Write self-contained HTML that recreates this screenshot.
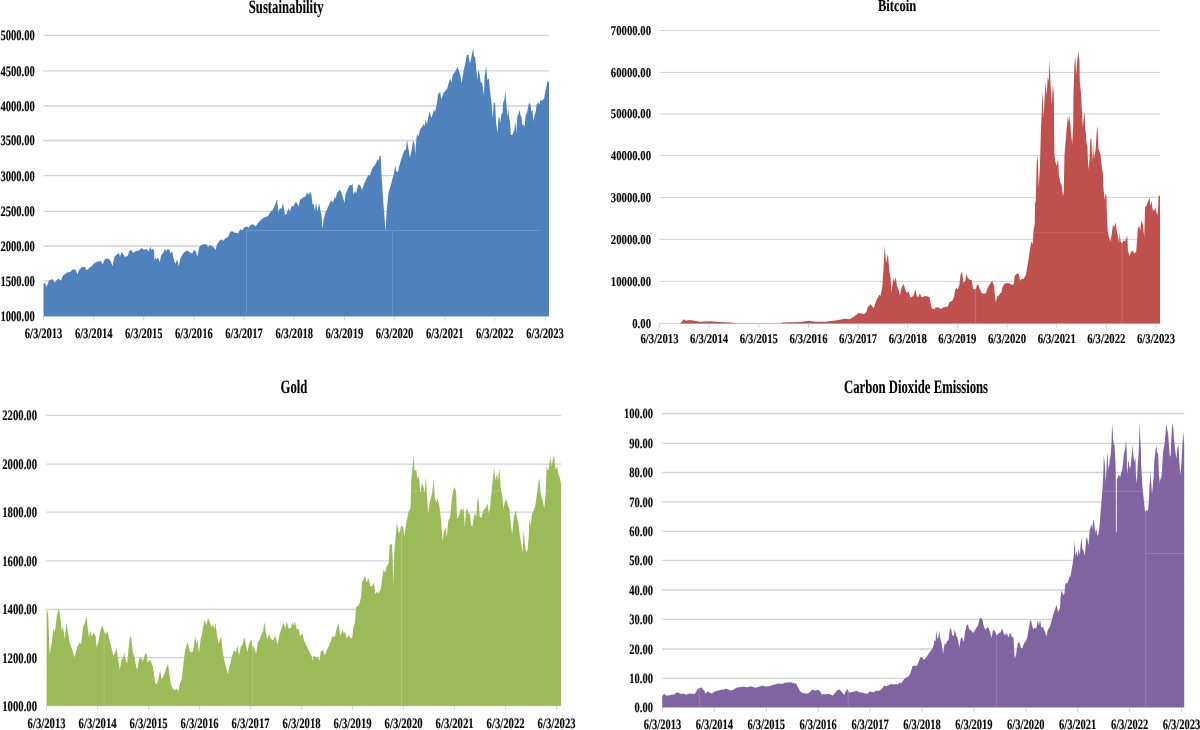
<!DOCTYPE html>
<html lang="en"><head><meta charset="utf-8"><title>Charts</title>
<style>
html,body{margin:0;padding:0;background:#fff}
body{width:1200px;height:730px;overflow:hidden}
svg{display:block}
text{font-family:"Liberation Serif","Times New Roman",serif;font-weight:bold;fill:#000;stroke:#000;stroke-width:.12px;text-rendering:geometricPrecision}
</style></head><body>
<svg width="1200" height="730" viewBox="0 0 1200 730">
<rect width="1200" height="730" fill="#fff"/>
<g>
<line x1="43.3" x2="549.0" y1="316.2" y2="316.2" stroke="#d2d2d2" stroke-width="1.3"/>
<line x1="43.3" x2="549.0" y1="281.0" y2="281.0" stroke="#d2d2d2" stroke-width="1.3"/>
<line x1="43.3" x2="549.0" y1="246.0" y2="246.0" stroke="#d2d2d2" stroke-width="1.3"/>
<line x1="43.3" x2="549.0" y1="211.3" y2="211.3" stroke="#d2d2d2" stroke-width="1.3"/>
<line x1="43.3" x2="549.0" y1="175.6" y2="175.6" stroke="#d2d2d2" stroke-width="1.3"/>
<line x1="43.3" x2="549.0" y1="140.5" y2="140.5" stroke="#d2d2d2" stroke-width="1.3"/>
<line x1="43.3" x2="549.0" y1="106.0" y2="106.0" stroke="#d2d2d2" stroke-width="1.3"/>
<line x1="43.3" x2="549.0" y1="70.9" y2="70.9" stroke="#d2d2d2" stroke-width="1.3"/>
<line x1="43.3" x2="549.0" y1="35.4" y2="35.4" stroke="#d2d2d2" stroke-width="1.3"/>
<line x1="43.5" x2="43.5" y1="316.3" y2="320.7" stroke="#d2d2d2" stroke-width="1"/>
<line x1="93.7" x2="93.7" y1="316.3" y2="320.7" stroke="#d2d2d2" stroke-width="1"/>
<line x1="143.8" x2="143.8" y1="316.3" y2="320.7" stroke="#d2d2d2" stroke-width="1"/>
<line x1="193.9" x2="193.9" y1="316.3" y2="320.7" stroke="#d2d2d2" stroke-width="1"/>
<line x1="244.1" x2="244.1" y1="316.3" y2="320.7" stroke="#d2d2d2" stroke-width="1"/>
<line x1="294.2" x2="294.2" y1="316.3" y2="320.7" stroke="#d2d2d2" stroke-width="1"/>
<line x1="344.4" x2="344.4" y1="316.3" y2="320.7" stroke="#d2d2d2" stroke-width="1"/>
<line x1="394.6" x2="394.6" y1="316.3" y2="320.7" stroke="#d2d2d2" stroke-width="1"/>
<line x1="444.7" x2="444.7" y1="316.3" y2="320.7" stroke="#d2d2d2" stroke-width="1"/>
<line x1="494.8" x2="494.8" y1="316.3" y2="320.7" stroke="#d2d2d2" stroke-width="1"/>
<line x1="545.0" x2="545.0" y1="316.3" y2="320.7" stroke="#d2d2d2" stroke-width="1"/>
<path d="M43.5,316.3L43.5,283.5L45.0,283.0L46.5,287.0L49.0,280.5L52.0,279.0L55.0,282.5L58.0,278.5L61.0,280.5L63.0,275.5L67.0,272.5L70.0,272.0L72.5,269.5L75.5,269.5L77.5,274.5L79.0,270.0L82.0,267.0L85.0,267.0L86.5,270.5L89.0,268.0L92.0,266.0L94.5,263.0L98.0,261.5L101.0,261.0L102.5,264.5L105.0,259.0L108.5,258.5L110.5,261.0L112.5,266.0L114.5,256.5L119.0,253.0L120.0,257.0L121.5,252.0L125.0,257.0L128.0,255.5L129.5,250.5L131.5,250.0L133.0,253.0L136.0,251.0L139.0,250.5L140.0,249.5L142.0,248.1L144.0,250.1L146.4,248.8L148.4,251.5L150.4,246.8L151.4,250.1L152.8,248.8L154.1,250.8L154.4,260.9L155.4,257.5L156.8,259.5L158.1,257.5L159.8,262.2L161.1,255.5L163.2,252.8L165.2,248.8L166.2,251.5L167.5,249.1L169.5,249.8L170.5,253.5L172.2,251.1L173.2,256.8L175.2,263.9L177.2,259.5L178.6,266.2L180.3,258.9L182.3,254.8L184.6,252.1L187.7,250.5L189.7,252.5L192.3,253.5L194.0,249.8L195.7,251.5L197.4,256.8L199.1,247.4L200.7,245.4L203.8,244.1L206.8,244.4L208.1,247.4L209.5,245.1L211.8,246.1L213.5,247.1L215.5,250.1L217.2,244.1L219.5,241.1L220.0,240.0L222.5,239.5L223.5,241.0L225.0,238.5L228.0,237.0L230.5,231.5L233.5,231.5L234.5,233.0L236.5,232.5L238.0,233.5L240.0,229.5L241.5,229.5L242.5,230.5L244.0,227.5L247.0,226.5L248.5,227.8L251.0,224.5L253.5,224.5L255.5,226.5L258.5,222.5L261.5,219.3L265.0,217.0L268.0,216.2L271.0,211.0L272.5,210.5L275.0,205.0L277.0,199.0L278.5,212.0L280.0,208.0L281.5,209.0L283.0,203.0L285.0,215.0L286.5,214.0L288.5,208.5L290.0,211.5L291.5,206.0L293.5,206.5L295.5,202.0L297.0,203.0L298.5,206.5L300.0,200.0L303.0,197.5L305.5,196.5L306.5,193.0L308.5,194.5L310.5,192.0L311.5,195.0L312.5,204.5L313.5,203.5L315.0,211.0L316.0,202.0L317.5,211.5L319.2,203.0L320.5,211.0L321.5,215.0L322.5,229.0L323.5,220.0L325.5,212.5L328.0,207.0L331.0,200.5L333.0,202.5L334.5,197.0L335.5,198.5L337.0,193.0L340.0,189.5L342.0,194.5L344.5,203.0L345.5,194.0L348.0,188.5L350.0,184.5L351.5,185.5L352.5,183.0L353.3,194.5L355.0,191.0L356.0,193.5L358.5,184.0L360.5,186.0L362.0,190.0L364.5,183.0L368.5,174.5L369.5,176.0L372.5,168.0L376.0,163.5L377.5,159.0L378.5,161.0L379.8,155.5L380.8,156.0L381.5,175.0L383.5,205.0L385.5,230.5L387.0,207.0L388.5,193.0L390.0,188.0L394.0,173.0L395.2,165.5L396.2,171.0L398.0,172.0L399.0,167.0L401.0,160.0L404.0,151.0L406.0,149.0L407.0,140.0L408.5,149.0L410.0,158.0L412.0,148.0L413.0,140.5L414.5,144.0L415.2,154.5L416.5,137.5L417.5,134.0L418.5,136.5L420.0,129.5L422.0,127.0L423.5,124.0L424.5,126.5L425.5,120.5L427.0,124.0L429.5,111.5L431.5,118.0L434.0,109.5L435.0,112.5L437.0,103.0L438.0,94.2L440.2,92.0L441.3,99.6L443.4,93.1L447.2,88.8L449.4,80.6L450.8,79.0L451.5,83.3L452.6,75.2L455.3,71.4L457.5,67.1L459.1,71.4L460.2,74.7L461.6,83.3L463.5,71.4L465.6,61.7L466.7,55.2L468.3,54.6L470.0,63.8L471.6,56.3L473.2,48.1L474.0,56.3L475.1,57.3L476.5,71.4L477.5,80.1L478.3,69.8L479.7,74.7L480.8,83.3L481.9,81.7L484.0,95.3L484.6,76.8L486.2,66.0L487.3,80.1L488.9,78.5L490.0,90.9L491.3,100.7L492.8,117.9L493.8,102.4L495.1,103.1L496.1,123.3L497.5,132.7L498.5,117.9L499.5,117.2L500.2,123.3L501.5,113.2L502.5,113.9L503.2,102.4L504.5,99.4L505.2,89.7L506.0,99.8L506.9,109.2L507.6,117.2L508.4,107.8L509.2,118.6L510.0,121.2L510.9,135.0L512.2,135.0L514.3,130.6L515.5,121.6L516.3,132.7L517.3,116.5L518.6,113.9L519.8,109.8L520.6,116.2L521.3,115.2L522.3,124.6L524.7,125.9L525.7,114.5L527.0,113.2L528.4,105.1L529.7,102.8L530.7,105.8L531.4,111.8L532.4,109.8L533.4,121.6L534.4,115.9L535.7,111.8L536.7,103.8L537.4,104.5L538.4,101.4L539.1,105.1L540.4,100.1L542.1,100.8L544.1,98.4L545.5,90.4L546.5,86.3L547.1,83.0L547.8,80.6L548.5,81.6L549.0,83.7L549.0,316.3Z" fill="#4f81bd"/>
<line x1="246.5" x2="246.5" y1="230.5" y2="316" stroke="#fff" stroke-opacity=".18" stroke-width="1"/>
<line x1="246.5" x2="540" y1="230.5" y2="230.5" stroke="#fff" stroke-opacity="0.18" stroke-width="1"/>
<line x1="392.3" x2="392.3" y1="231" y2="316" stroke="#fff" stroke-opacity=".18" stroke-width="1"/>
<text font-size="14.5" text-anchor="end" transform="translate(34.8,321.1) scale(0.73,1)">1000.00</text>
<text font-size="14.5" text-anchor="end" transform="translate(34.8,285.9) scale(0.73,1)">1500.00</text>
<text font-size="14.5" text-anchor="end" transform="translate(34.8,250.9) scale(0.73,1)">2000.00</text>
<text font-size="14.5" text-anchor="end" transform="translate(34.8,216.2) scale(0.73,1)">2500.00</text>
<text font-size="14.5" text-anchor="end" transform="translate(34.8,180.5) scale(0.73,1)">3000.00</text>
<text font-size="14.5" text-anchor="end" transform="translate(34.8,145.4) scale(0.73,1)">3500.00</text>
<text font-size="14.5" text-anchor="end" transform="translate(34.8,110.9) scale(0.73,1)">4000.00</text>
<text font-size="14.5" text-anchor="end" transform="translate(34.8,75.8) scale(0.73,1)">4500.00</text>
<text font-size="14.5" text-anchor="end" transform="translate(34.8,40.3) scale(0.73,1)">5000.00</text>
<text font-size="14.5" text-anchor="middle" transform="translate(43.5,338.0) scale(0.73,1)">6/3/2013</text>
<text font-size="14.5" text-anchor="middle" transform="translate(93.7,338.0) scale(0.73,1)">6/3/2014</text>
<text font-size="14.5" text-anchor="middle" transform="translate(143.8,338.0) scale(0.73,1)">6/3/2015</text>
<text font-size="14.5" text-anchor="middle" transform="translate(193.9,338.0) scale(0.73,1)">6/3/2016</text>
<text font-size="14.5" text-anchor="middle" transform="translate(244.1,338.0) scale(0.73,1)">6/3/2017</text>
<text font-size="14.5" text-anchor="middle" transform="translate(294.2,338.0) scale(0.73,1)">6/3/2018</text>
<text font-size="14.5" text-anchor="middle" transform="translate(344.4,338.0) scale(0.73,1)">6/3/2019</text>
<text font-size="14.5" text-anchor="middle" transform="translate(394.6,338.0) scale(0.73,1)">6/3/2020</text>
<text font-size="14.5" text-anchor="middle" transform="translate(444.7,338.0) scale(0.73,1)">6/3/2021</text>
<text font-size="14.5" text-anchor="middle" transform="translate(494.8,338.0) scale(0.73,1)">6/3/2022</text>
<text font-size="14.5" text-anchor="middle" transform="translate(545.0,338.0) scale(0.73,1)">6/3/2023</text>
<text font-size="18.9" text-anchor="middle" transform="translate(286.2,12.9) scale(0.673,1)">Sustainability</text>
</g>
<g>
<line x1="659.3" x2="1160.0" y1="323.4" y2="323.4" stroke="#d2d2d2" stroke-width="1.0"/>
<line x1="659.3" x2="1160.0" y1="281.4" y2="281.4" stroke="#d2d2d2" stroke-width="1.0"/>
<line x1="659.3" x2="1160.0" y1="239.3" y2="239.3" stroke="#d2d2d2" stroke-width="1.0"/>
<line x1="659.3" x2="1160.0" y1="197.4" y2="197.4" stroke="#d2d2d2" stroke-width="1.0"/>
<line x1="659.3" x2="1160.0" y1="155.4" y2="155.4" stroke="#d2d2d2" stroke-width="1.0"/>
<line x1="659.3" x2="1160.0" y1="113.9" y2="113.9" stroke="#d2d2d2" stroke-width="1.0"/>
<line x1="659.3" x2="1160.0" y1="72.4" y2="72.4" stroke="#d2d2d2" stroke-width="1.0"/>
<line x1="659.3" x2="1160.0" y1="30.5" y2="30.5" stroke="#d2d2d2" stroke-width="1.0"/>
<line x1="659.5" x2="659.5" y1="323.4" y2="327.8" stroke="#d2d2d2" stroke-width="1"/>
<line x1="709.1" x2="709.1" y1="323.4" y2="327.8" stroke="#d2d2d2" stroke-width="1"/>
<line x1="758.8" x2="758.8" y1="323.4" y2="327.8" stroke="#d2d2d2" stroke-width="1"/>
<line x1="808.5" x2="808.5" y1="323.4" y2="327.8" stroke="#d2d2d2" stroke-width="1"/>
<line x1="858.1" x2="858.1" y1="323.4" y2="327.8" stroke="#d2d2d2" stroke-width="1"/>
<line x1="907.8" x2="907.8" y1="323.4" y2="327.8" stroke="#d2d2d2" stroke-width="1"/>
<line x1="957.4" x2="957.4" y1="323.4" y2="327.8" stroke="#d2d2d2" stroke-width="1"/>
<line x1="1007.0" x2="1007.0" y1="323.4" y2="327.8" stroke="#d2d2d2" stroke-width="1"/>
<line x1="1056.7" x2="1056.7" y1="323.4" y2="327.8" stroke="#d2d2d2" stroke-width="1"/>
<line x1="1106.3" x2="1106.3" y1="323.4" y2="327.8" stroke="#d2d2d2" stroke-width="1"/>
<line x1="1156.0" x2="1156.0" y1="323.4" y2="327.8" stroke="#d2d2d2" stroke-width="1"/>
<path d="M680.0,323.4L680.0,323.4L682.5,320.8L684.2,319.2L685.8,320.8L689.2,320.0L693.3,320.5L700.0,321.7L710.0,321.2L720.0,322.0L730.0,322.5L736.7,323.2L780.0,323.2L783.3,322.5L800.0,322.0L809.2,320.7L810.0,321.1L815.8,321.7L825.2,321.7L835.7,320.5L845.0,318.8L849.7,319.3L854.3,316.4L858.4,312.9L861.3,313.5L864.3,314.1L866.6,311.8L867.8,307.1L870.7,304.2L873.6,308.3L876.5,300.1L879.4,294.8L880.6,296.0L882.3,286.7L883.5,269.2L884.7,245.8L886.1,263.3L887.9,254.0L889.3,270.3L890.5,277.3L891.4,292.5L893.4,277.9L894.2,282.0L895.8,277.3L896.9,285.5L898.7,290.2L899.8,295.4L901.6,287.8L903.6,283.8L905.1,289.0L906.8,293.1L908.6,291.3L910.3,297.8L913.3,296.0L915.4,289.6L916.8,296.0L918.3,297.2L919.9,293.1L921.4,297.2L925.5,296.0L929.6,296.9L930.8,304.2L931.9,308.3L934.3,309.4L935.0,307.8L937.7,307.3L941.0,309.1L943.7,307.3L948.0,306.5L949.1,302.4L952.3,300.8L954.0,297.0L955.0,290.5L956.4,287.8L957.7,289.4L959.4,285.1L960.5,275.3L962.1,271.5L963.4,282.9L965.3,280.7L966.4,273.7L967.5,277.5L969.7,279.7L971.8,280.2L973.1,288.9L975.6,289.4L977.0,285.1L978.3,284.5L980.0,289.4L981.6,292.7L983.7,293.7L985.9,293.2L987.5,288.3L989.7,284.5L992.2,280.7L994.0,285.6L994.8,293.7L995.7,302.4L997.3,295.9L998.9,295.4L1000.0,293.2L1001.3,292.7L1002.4,287.2L1004.3,284.0L1007.0,282.9L1009.7,283.5L1011.9,284.9L1013.9,284.0L1014.6,275.9L1017.3,273.2L1019.0,274.2L1020.0,280.7L1021.7,279.1L1023.8,278.6L1025.8,275.3L1027.1,267.7L1028.7,258.0L1030.3,247.0L1031.5,241.5L1032.7,244.5L1033.5,231.2L1034.7,224.0L1035.1,202.2L1035.7,202.3L1036.7,163.7L1037.8,155.2L1038.7,187.8L1039.9,167.3L1041.1,125.0L1041.7,112.7L1042.4,90.9L1043.6,117.5L1044.8,95.7L1045.4,81.2L1046.6,95.7L1047.8,77.0L1048.8,81.2L1049.6,59.5L1050.4,81.2L1051.7,105.4L1052.9,84.9L1053.8,93.3L1054.1,133.0L1054.4,155.2L1055.6,162.5L1056.9,166.1L1058.1,157.6L1058.9,175.7L1060.5,183.0L1061.7,185.4L1062.9,196.3L1063.7,192.7L1064.5,155.2L1065.9,137.1L1067.1,125.0L1067.7,116.3L1068.9,122.3L1069.5,114.5L1070.7,129.6L1072.2,144.3L1073.2,125.0L1073.4,98.2L1074.4,64.3L1075.3,57.1L1076.2,75.2L1077.4,59.5L1078.6,51.6L1079.4,60.7L1079.8,81.2L1081.0,93.3L1081.9,110.2L1082.8,127.2L1083.8,117.5L1084.6,110.9L1085.2,127.2L1085.9,133.0L1086.2,140.7L1087.4,146.7L1088.3,169.7L1089.5,160.0L1090.3,139.5L1091.3,138.3L1092.3,162.5L1093.1,141.9L1093.9,158.8L1095.5,150.4L1096.7,132.2L1097.5,125.7L1098.5,149.2L1100.4,154.0L1101.6,164.9L1102.8,173.3L1103.4,187.8L1104.6,199.9L1105.8,192.7L1106.5,197.5L1106.8,210.7L1107.6,230.0L1108.8,236.7L1110.4,241.5L1111.6,234.9L1113.0,224.6L1114.2,227.6L1115.8,222.2L1116.7,231.2L1118.1,237.3L1119.1,243.3L1119.6,231.2L1120.5,241.5L1122.1,243.3L1123.7,240.3L1125.1,241.5L1127.3,235.5L1127.9,250.6L1129.4,256.0L1131.2,251.8L1132.6,250.6L1134.2,253.6L1136.2,251.8L1137.0,240.9L1137.8,228.8L1139.4,225.8L1140.2,231.2L1141.4,220.4L1143.0,224.6L1144.2,237.9L1145.1,207.1L1146.3,205.9L1148.1,201.6L1149.5,197.4L1150.5,205.9L1151.5,201.0L1152.7,210.1L1154.4,210.7L1155.6,207.7L1157.1,215.5L1158.0,210.7L1158.5,196.2L1159.7,195.6L1160.0,195.6L1160.0,323.4Z" fill="#c0504d"/>
<line x1="975.6" x2="975.6" y1="290" y2="323" stroke="#fff" stroke-opacity=".18" stroke-width="1"/>
<line x1="1122.1" x2="1122.1" y1="243" y2="323" stroke="#fff" stroke-opacity=".18" stroke-width="1"/>
<line x1="1034" x2="1106.5" y1="232.5" y2="232.5" stroke="#fff" stroke-opacity="0.1" stroke-width="1"/>
<text font-size="13.4" text-anchor="end" transform="translate(651.0,327.9) scale(0.8,1)">0.00</text>
<text font-size="13.4" text-anchor="end" transform="translate(651.0,285.9) scale(0.8,1)">10000.00</text>
<text font-size="13.4" text-anchor="end" transform="translate(651.0,243.8) scale(0.8,1)">20000.00</text>
<text font-size="13.4" text-anchor="end" transform="translate(651.0,201.9) scale(0.8,1)">30000.00</text>
<text font-size="13.4" text-anchor="end" transform="translate(651.0,159.9) scale(0.8,1)">40000.00</text>
<text font-size="13.4" text-anchor="end" transform="translate(651.0,118.4) scale(0.8,1)">50000.00</text>
<text font-size="13.4" text-anchor="end" transform="translate(651.0,76.9) scale(0.8,1)">60000.00</text>
<text font-size="13.4" text-anchor="end" transform="translate(651.0,35.0) scale(0.8,1)">70000.00</text>
<text font-size="13.4" text-anchor="middle" transform="translate(659.5,342.9) scale(0.8,1)">6/3/2013</text>
<text font-size="13.4" text-anchor="middle" transform="translate(709.1,342.9) scale(0.8,1)">6/3/2014</text>
<text font-size="13.4" text-anchor="middle" transform="translate(758.8,342.9) scale(0.8,1)">6/3/2015</text>
<text font-size="13.4" text-anchor="middle" transform="translate(808.5,342.9) scale(0.8,1)">6/3/2016</text>
<text font-size="13.4" text-anchor="middle" transform="translate(858.1,342.9) scale(0.8,1)">6/3/2017</text>
<text font-size="13.4" text-anchor="middle" transform="translate(907.8,342.9) scale(0.8,1)">6/3/2018</text>
<text font-size="13.4" text-anchor="middle" transform="translate(957.4,342.9) scale(0.8,1)">6/3/2019</text>
<text font-size="13.4" text-anchor="middle" transform="translate(1007.0,342.9) scale(0.8,1)">6/3/2020</text>
<text font-size="13.4" text-anchor="middle" transform="translate(1056.7,342.9) scale(0.8,1)">6/3/2021</text>
<text font-size="13.4" text-anchor="middle" transform="translate(1106.3,342.9) scale(0.8,1)">6/3/2022</text>
<text font-size="13.4" text-anchor="middle" transform="translate(1156.0,342.9) scale(0.8,1)">6/3/2023</text>
<text font-size="16.7" text-anchor="middle" transform="translate(897.1,10.7) scale(0.75,1)">Bitcoin</text>
</g>
<g>
<line x1="46.3" x2="561.1" y1="705.7" y2="705.7" stroke="#d2d2d2" stroke-width="1.3"/>
<line x1="46.3" x2="561.1" y1="657.7" y2="657.7" stroke="#d2d2d2" stroke-width="1.3"/>
<line x1="46.3" x2="561.1" y1="609.3" y2="609.3" stroke="#d2d2d2" stroke-width="1.3"/>
<line x1="46.3" x2="561.1" y1="560.8" y2="560.8" stroke="#d2d2d2" stroke-width="1.3"/>
<line x1="46.3" x2="561.1" y1="512.1" y2="512.1" stroke="#d2d2d2" stroke-width="1.3"/>
<line x1="46.3" x2="561.1" y1="464.2" y2="464.2" stroke="#d2d2d2" stroke-width="1.3"/>
<line x1="46.3" x2="561.1" y1="415.3" y2="415.3" stroke="#d2d2d2" stroke-width="1.3"/>
<line x1="46.6" x2="46.6" y1="705.8" y2="710.2" stroke="#d2d2d2" stroke-width="1"/>
<line x1="97.6" x2="97.6" y1="705.8" y2="710.2" stroke="#d2d2d2" stroke-width="1"/>
<line x1="148.6" x2="148.6" y1="705.8" y2="710.2" stroke="#d2d2d2" stroke-width="1"/>
<line x1="199.6" x2="199.6" y1="705.8" y2="710.2" stroke="#d2d2d2" stroke-width="1"/>
<line x1="250.6" x2="250.6" y1="705.8" y2="710.2" stroke="#d2d2d2" stroke-width="1"/>
<line x1="301.6" x2="301.6" y1="705.8" y2="710.2" stroke="#d2d2d2" stroke-width="1"/>
<line x1="352.6" x2="352.6" y1="705.8" y2="710.2" stroke="#d2d2d2" stroke-width="1"/>
<line x1="403.6" x2="403.6" y1="705.8" y2="710.2" stroke="#d2d2d2" stroke-width="1"/>
<line x1="454.6" x2="454.6" y1="705.8" y2="710.2" stroke="#d2d2d2" stroke-width="1"/>
<line x1="505.6" x2="505.6" y1="705.8" y2="710.2" stroke="#d2d2d2" stroke-width="1"/>
<line x1="556.6" x2="556.6" y1="705.8" y2="710.2" stroke="#d2d2d2" stroke-width="1"/>
<path d="M46.6,705.8L46.6,608.1L48.2,614.7L49.5,654.1L51.5,644.3L53.5,627.8L54.8,632.8L56.8,616.3L58.9,608.1L60.6,619.6L61.7,631.1L63.0,626.2L64.7,639.3L66.6,622.1L68.0,632.8L69.6,642.6L72.1,649.2L74.5,657.4L77.0,647.6L79.5,642.6L81.1,644.3L83.1,627.0L85.2,622.1L86.5,615.5L87.7,627.8L89.0,637.7L90.2,630.3L91.8,636.9L93.5,632.8L95.6,636.1L96.7,647.6L98.4,641.8L100.5,629.5L102.5,625.4L104.1,631.1L105.8,634.4L107.4,631.1L109.1,638.5L111.1,645.9L113.2,655.8L114.8,654.1L116.5,647.6L118.1,659.1L119.8,669.8L121.4,659.9L123.1,658.3L124.2,652.5L125.9,660.7L127.2,663.2L128.8,645.9L130.0,635.2L131.3,638.5L132.9,652.5L134.6,657.4L136.2,667.3L137.4,669.8L139.0,659.1L141.2,657.4L142.8,661.5L144.4,655.8L146.4,652.5L147.7,662.4L150.2,659.9L152.7,665.7L153.8,672.2L155.1,683.8L157.1,683.8L158.8,677.2L160.1,670.6L161.7,679.6L163.7,675.5L165.0,672.2L166.6,667.3L168.0,664.0L169.6,675.5L170.8,684.6L172.9,688.7L174.9,690.3L176.8,688.7L178.5,691.2L179.8,683.8L181.8,678.8L183.4,664.0L185.0,650.9L187.5,641.8L189.9,651.7L192.4,652.5L194.0,645.9L195.2,636.1L196.5,644.3L197.3,639.3L199.0,653.3L200.6,639.3L201.8,635.2L203.1,627.8L204.7,619.6L206.4,625.4L208.0,618.0L209.7,622.1L211.3,627.0L213.0,624.5L214.3,629.5L215.4,622.9L217.1,636.1L218.7,644.3L221.2,636.1L222.5,650.9L224.5,660.7L226.4,668.9L227.8,673.9L229.4,667.3L231.9,656.6L234.3,650.0L236.0,652.5L237.3,645.1L238.9,655.8L240.9,646.7L242.6,644.3L244.2,636.9L245.9,644.3L247.2,652.5L248.8,645.1L251.1,639.3L252.4,645.9L254.1,647.6L256.1,654.1L257.7,642.6L259.8,639.3L261.5,634.4L263.1,631.1L264.4,622.1L265.9,632.8L267.2,639.3L269.2,633.6L270.5,638.5L273.0,640.2L275.5,636.1L277.4,645.1L279.6,634.4L281.2,628.7L283.7,622.9L285.3,628.7L286.6,621.2L288.6,628.7L291.1,627.8L292.2,622.1L293.6,625.4L294.9,621.2L296.8,629.5L298.5,628.7L300.1,636.1L302.6,633.6L304.2,641.0L306.7,645.9L309.2,651.7L311.6,655.8L312.5,660.7L314.1,655.0L315.8,657.4L317.4,656.6L319.5,660.7L320.7,651.7L323.2,650.0L324.8,655.8L326.4,650.9L328.9,645.9L330.0,643.5L332.5,636.1L334.9,636.9L336.6,628.7L338.6,622.9L340.2,636.1L342.3,630.3L344.0,633.6L345.1,631.2L346.4,638.6L348.9,635.3L350.6,638.6L352.2,637.7L353.4,627.0L355.0,622.1L356.0,607.3L358.0,605.7L359.9,602.4L361.2,595.8L362.1,581.8L363.7,579.3L365.0,576.1L366.5,582.6L368.7,578.5L370.3,586.7L372.4,585.9L374.1,582.6L375.2,594.1L376.9,591.7L378.5,593.3L380.7,589.2L381.8,581.0L383.5,569.5L385.1,572.8L386.7,566.2L388.9,562.9L389.6,545.3L391.9,543.7L392.7,558.5L393.2,586.4L393.9,560.1L394.5,550.3L396.2,530.5L396.8,522.3L399.0,533.8L401.4,525.6L403.1,527.2L404.4,536.3L406.4,522.3L408.4,512.4L410.5,508.3L411.3,479.5L412.6,466.4L413.5,455.7L414.6,471.3L416.2,469.7L417.6,479.5L418.7,474.6L420.4,492.7L422.0,482.8L423.7,487.8L424.5,492.7L425.8,477.1L426.9,492.7L428.1,514.1L429.7,502.6L431.9,494.3L433.8,479.5L434.8,497.6L436.3,502.6L437.6,498.5L439.6,507.5L440.9,519.0L442.6,540.4L444.2,530.5L445.5,527.2L446.7,537.1L448.3,520.7L450.0,517.4L451.1,505.9L452.8,491.9L454.4,486.9L456.1,491.1L457.0,519.0L459.0,515.7L461.0,508.3L462.3,510.8L463.5,507.5L464.8,527.2L465.9,510.8L467.2,508.3L468.6,514.1L469.7,512.4L470.9,523.9L472.2,527.2L473.8,517.4L475.1,512.4L476.3,517.4L477.4,500.9L478.4,496.8L479.6,515.7L481.2,518.2L482.9,511.6L485.3,508.3L486.6,505.9L487.8,503.4L488.6,514.1L490.0,507.5L492.0,487.8L494.1,466.4L495.3,480.4L496.6,474.6L497.9,480.4L499.4,468.8L500.7,487.8L502.3,496.0L503.5,509.1L504.8,501.7L506.4,499.3L507.8,505.0L509.4,509.1L510.6,522.3L512.2,534.6L513.8,517.4L515.8,510.0L517.1,518.2L518.3,522.3L519.6,533.8L520.9,542.0L522.6,551.9L523.7,530.5L524.9,543.7L526.2,551.9L527.5,550.3L528.7,537.1L529.5,519.0L530.8,525.6L531.9,514.1L533.6,510.8L535.2,505.9L536.9,494.3L538.0,486.1L539.3,477.9L540.7,492.7L541.8,497.6L543.0,502.6L544.3,508.3L545.6,494.3L546.7,464.7L547.9,471.3L549.2,466.4L550.4,456.5L551.7,466.4L552.8,459.8L554.1,454.9L555.5,469.7L557.1,466.4L558.3,473.8L559.9,477.9L561.1,484.5L561.1,705.8Z" fill="#9bbb59"/>
<line x1="104.1" x2="104.1" y1="630" y2="705" stroke="#fff" stroke-opacity=".18" stroke-width="1"/>
<line x1="252.5" x2="252.5" y1="640" y2="705" stroke="#fff" stroke-opacity=".18" stroke-width="1"/>
<line x1="401.5" x2="401.5" y1="530" y2="705" stroke="#fff" stroke-opacity=".18" stroke-width="1"/>
<line x1="411.8" x2="551" y1="491" y2="491" stroke="#fff" stroke-opacity="0.18" stroke-width="1"/>
<text font-size="14.5" text-anchor="end" transform="translate(37.0,710.6) scale(0.737,1)">1000.00</text>
<text font-size="14.5" text-anchor="end" transform="translate(37.0,662.6) scale(0.737,1)">1200.00</text>
<text font-size="14.5" text-anchor="end" transform="translate(37.0,614.2) scale(0.737,1)">1400.00</text>
<text font-size="14.5" text-anchor="end" transform="translate(37.0,565.7) scale(0.737,1)">1600.00</text>
<text font-size="14.5" text-anchor="end" transform="translate(37.0,517.0) scale(0.737,1)">1800.00</text>
<text font-size="14.5" text-anchor="end" transform="translate(37.0,469.1) scale(0.737,1)">2000.00</text>
<text font-size="14.5" text-anchor="end" transform="translate(37.0,420.2) scale(0.737,1)">2200.00</text>
<text font-size="14.5" text-anchor="middle" transform="translate(46.6,728.0) scale(0.737,1)">6/3/2013</text>
<text font-size="14.5" text-anchor="middle" transform="translate(97.6,728.0) scale(0.737,1)">6/3/2014</text>
<text font-size="14.5" text-anchor="middle" transform="translate(148.6,728.0) scale(0.737,1)">6/3/2015</text>
<text font-size="14.5" text-anchor="middle" transform="translate(199.6,728.0) scale(0.737,1)">6/3/2016</text>
<text font-size="14.5" text-anchor="middle" transform="translate(250.6,728.0) scale(0.737,1)">6/3/2017</text>
<text font-size="14.5" text-anchor="middle" transform="translate(301.6,728.0) scale(0.737,1)">6/3/2018</text>
<text font-size="14.5" text-anchor="middle" transform="translate(352.6,728.0) scale(0.737,1)">6/3/2019</text>
<text font-size="14.5" text-anchor="middle" transform="translate(403.6,728.0) scale(0.737,1)">6/3/2020</text>
<text font-size="14.5" text-anchor="middle" transform="translate(454.6,728.0) scale(0.737,1)">6/3/2021</text>
<text font-size="14.5" text-anchor="middle" transform="translate(505.6,728.0) scale(0.737,1)">6/3/2022</text>
<text font-size="14.5" text-anchor="middle" transform="translate(556.6,728.0) scale(0.737,1)">6/3/2023</text>
<text font-size="18.9" text-anchor="middle" transform="translate(294.0,393.3) scale(0.673,1)">Gold</text>
</g>
<g>
<line x1="662.3" x2="1184.2" y1="707.3" y2="707.3" stroke="#d2d2d2" stroke-width="1.3"/>
<line x1="662.3" x2="1184.2" y1="678.3" y2="678.3" stroke="#d2d2d2" stroke-width="1.3"/>
<line x1="662.3" x2="1184.2" y1="649.0" y2="649.0" stroke="#d2d2d2" stroke-width="1.3"/>
<line x1="662.3" x2="1184.2" y1="619.4" y2="619.4" stroke="#d2d2d2" stroke-width="1.3"/>
<line x1="662.3" x2="1184.2" y1="590.0" y2="590.0" stroke="#d2d2d2" stroke-width="1.3"/>
<line x1="662.3" x2="1184.2" y1="560.4" y2="560.4" stroke="#d2d2d2" stroke-width="1.3"/>
<line x1="662.3" x2="1184.2" y1="531.3" y2="531.3" stroke="#d2d2d2" stroke-width="1.3"/>
<line x1="662.3" x2="1184.2" y1="501.8" y2="501.8" stroke="#d2d2d2" stroke-width="1.3"/>
<line x1="662.3" x2="1184.2" y1="472.5" y2="472.5" stroke="#d2d2d2" stroke-width="1.3"/>
<line x1="662.3" x2="1184.2" y1="443.4" y2="443.4" stroke="#d2d2d2" stroke-width="1.3"/>
<line x1="662.3" x2="1184.2" y1="413.5" y2="413.5" stroke="#d2d2d2" stroke-width="1.3"/>
<line x1="662.5" x2="662.5" y1="707.3" y2="711.7" stroke="#d2d2d2" stroke-width="1"/>
<line x1="714.4" x2="714.4" y1="707.3" y2="711.7" stroke="#d2d2d2" stroke-width="1"/>
<line x1="766.3" x2="766.3" y1="707.3" y2="711.7" stroke="#d2d2d2" stroke-width="1"/>
<line x1="818.2" x2="818.2" y1="707.3" y2="711.7" stroke="#d2d2d2" stroke-width="1"/>
<line x1="870.1" x2="870.1" y1="707.3" y2="711.7" stroke="#d2d2d2" stroke-width="1"/>
<line x1="922.0" x2="922.0" y1="707.3" y2="711.7" stroke="#d2d2d2" stroke-width="1"/>
<line x1="973.9" x2="973.9" y1="707.3" y2="711.7" stroke="#d2d2d2" stroke-width="1"/>
<line x1="1025.8" x2="1025.8" y1="707.3" y2="711.7" stroke="#d2d2d2" stroke-width="1"/>
<line x1="1077.7" x2="1077.7" y1="707.3" y2="711.7" stroke="#d2d2d2" stroke-width="1"/>
<line x1="1129.6" x2="1129.6" y1="707.3" y2="711.7" stroke="#d2d2d2" stroke-width="1"/>
<line x1="1181.5" x2="1181.5" y1="707.3" y2="711.7" stroke="#d2d2d2" stroke-width="1"/>
<path d="M662.2,707.3L662.2,696.2L664.0,693.8L666.2,695.6L668.8,695.6L671.2,694.8L674.4,694.4L676.2,692.5L678.8,692.8L680.6,694.0L683.1,693.5L686.2,694.8L689.4,693.5L692.5,693.8L694.8,694.0L696.9,690.6L698.1,688.5L700.0,688.1L701.9,687.5L703.1,690.0L704.4,690.6L705.2,693.8L707.5,691.5L709.4,692.5L711.9,693.5L713.8,692.2L716.2,691.0L718.8,690.6L721.2,689.8L723.8,689.4L726.2,688.8L728.8,689.8L731.2,690.6L733.8,689.4L736.2,687.8L738.8,687.2L741.2,686.9L743.8,686.5L746.2,687.2L748.8,686.9L751.2,686.2L753.8,687.2L755.6,687.8L758.1,686.9L760.6,686.2L762.5,685.6L765.0,686.5L767.5,686.2L770.0,686.0L772.5,685.0L775.0,684.4L777.5,683.5L780.0,683.8L782.5,683.8L785.0,682.8L787.5,682.5L790.6,682.2L793.1,683.1L796.0,683.5L797.5,686.2L799.4,690.0L800.0,691.2L802.5,693.1L805.0,693.5L808.1,693.5L810.6,691.2L812.5,689.4L814.4,690.6L816.2,690.2L818.1,689.8L820.0,691.2L821.9,694.4L823.8,694.0L825.6,694.4L828.1,693.8L830.6,694.4L832.8,695.4L835.0,693.1L836.9,690.6L839.4,689.4L841.2,691.2L843.1,693.8L844.4,694.8L846.2,690.6L847.5,689.0L849.0,692.5L851.2,692.2L853.8,691.5L856.9,691.0L859.4,692.2L862.5,692.5L865.0,693.5L867.5,693.8L869.4,691.5L871.9,691.9L873.8,692.2L876.2,690.6L878.8,691.0L881.2,689.4L884.4,685.6L886.2,686.2L888.8,685.0L891.2,684.0L893.8,684.4L896.2,684.0L898.1,684.8L899.4,682.5L901.2,683.5L903.8,679.4L906.2,677.5L908.8,676.2L910.6,672.5L912.5,666.2L915.0,665.6L916.9,666.0L918.8,661.2L920.6,656.9L922.5,657.5L923.8,660.0L926.2,657.5L929.4,652.5L931.9,649.4L933.5,646.2L934.4,640.0L935.6,641.2L936.2,630.6L937.5,639.4L938.5,636.2L939.4,630.6L940.0,637.5L941.5,642.5L943.1,653.8L944.8,642.5L945.6,645.0L946.9,641.2L948.5,640.0L949.8,630.0L951.0,628.1L952.2,635.0L953.5,636.2L954.8,629.4L956.0,635.0L957.5,638.1L959.4,647.5L960.6,638.8L961.9,636.9L963.8,641.9L965.0,632.5L966.5,625.6L967.8,624.4L969.4,629.4L971.2,630.6L973.1,633.1L975.0,630.0L976.9,626.9L978.1,625.6L979.4,618.8L981.2,618.1L982.5,620.0L984.0,626.9L985.6,630.0L986.9,627.5L988.5,627.5L990.0,631.9L991.5,638.1L993.1,629.4L995.0,631.2L996.9,635.6L998.8,633.1L1000.6,632.5L1001.9,628.1L1003.8,633.8L1005.6,635.0L1006.9,633.1L1008.5,637.5L1010.2,632.5L1011.9,636.9L1013.5,637.5L1014.0,648.8L1014.8,658.8L1016.2,653.8L1017.8,643.1L1019.4,641.9L1020.6,646.9L1022.2,648.8L1023.8,643.8L1025.6,641.2L1027.2,638.1L1028.5,630.0L1029.8,622.5L1031.0,619.4L1032.2,626.2L1033.5,629.4L1035.0,627.5L1036.2,628.8L1037.8,620.6L1039.0,625.6L1040.0,619.4L1041.2,627.5L1042.8,626.9L1044.4,630.6L1046.5,636.2L1047.8,630.0L1049.8,626.9L1051.2,621.9L1053.1,615.0L1055.0,609.4L1056.5,605.0L1058.1,611.9L1060.0,608.1L1060.6,597.5L1061.5,590.6L1063.1,595.0L1064.4,593.8L1065.2,585.1L1066.3,582.8L1067.5,583.4L1069.3,577.6L1070.4,576.4L1071.6,570.0L1072.8,563.0L1073.9,553.7L1074.5,539.7L1075.4,556.0L1076.6,550.2L1077.4,557.2L1078.6,549.0L1079.8,554.8L1080.6,545.5L1081.5,537.3L1082.4,549.0L1083.8,551.3L1084.7,556.0L1085.6,546.7L1086.4,537.3L1087.3,538.5L1088.5,545.5L1089.7,530.3L1091.4,523.9L1092.2,529.2L1093.4,519.3L1094.3,523.3L1095.3,533.8L1096.1,528.0L1097.6,536.2L1099.0,531.5L1099.9,521.0L1100.8,509.3L1101.6,500.0L1102.5,488.4L1103.4,471.7L1103.8,455.0L1104.4,460.6L1105.0,466.0L1105.2,470.0L1105.7,482.6L1106.5,470.0L1107.1,455.0L1107.5,452.6L1108.0,463.4L1108.5,470.0L1109.4,463.4L1110.1,455.0L1110.5,459.3L1111.6,440.9L1111.9,430.1L1112.4,424.2L1113.0,438.4L1113.8,444.3L1114.6,445.1L1115.1,455.1L1115.5,463.4L1115.8,480.1L1115.9,532.3L1116.7,532.3L1116.8,480.1L1118.0,476.7L1118.8,474.2L1120.1,477.6L1121.3,472.5L1122.2,470.0L1123.0,463.4L1123.8,455.1L1125.1,448.4L1126.1,440.1L1126.8,451.8L1126.9,467.5L1127.4,474.2L1128.0,463.4L1128.6,460.1L1129.3,465.9L1130.1,469.2L1130.9,464.2L1131.8,455.1L1132.6,444.7L1133.3,455.1L1134.3,461.8L1135.5,457.6L1135.8,471.7L1136.4,483.4L1137.2,475.9L1138.0,460.0L1138.3,459.3L1139.1,442.6L1139.7,421.7L1140.3,439.3L1141.0,451.8L1141.1,463.4L1141.8,475.9L1142.5,488.4L1143.5,496.8L1144.3,505.1L1145.1,512.6L1146.1,509.3L1147.0,511.8L1148.1,509.3L1148.9,500.9L1149.5,484.2L1150.2,480.1L1150.6,470.9L1151.2,482.6L1152.0,493.4L1152.8,486.7L1153.7,475.9L1154.3,460.0L1154.7,458.5L1155.6,449.3L1156.4,445.1L1157.0,452.6L1158.1,453.5L1158.7,467.5L1159.3,484.2L1160.0,475.9L1160.8,480.9L1161.7,474.2L1162.3,465.9L1163.1,451.8L1164.4,445.1L1165.6,432.6L1166.4,423.4L1167.3,430.1L1168.1,433.4L1168.9,445.1L1169.8,456.0L1170.6,456.8L1171.2,442.6L1171.9,428.4L1172.5,422.5L1173.4,429.2L1174.0,438.4L1174.8,446.8L1175.6,453.5L1176.5,458.5L1177.3,448.4L1178.4,444.7L1179.0,455.1L1179.4,463.4L1180.2,475.1L1181.1,467.5L1181.9,455.1L1182.7,440.1L1183.4,431.7L1184.0,442.6L1184.2,442.6L1184.2,707.3Z" fill="#8064a2"/>
<line x1="699.6" x2="699.6" y1="688" y2="707" stroke="#fff" stroke-opacity=".18" stroke-width="1"/>
<line x1="848.1" x2="848.1" y1="690" y2="707" stroke="#fff" stroke-opacity=".18" stroke-width="1"/>
<line x1="996.6" x2="996.6" y1="634" y2="707" stroke="#fff" stroke-opacity=".18" stroke-width="1"/>
<line x1="1145.7" x2="1145.7" y1="512" y2="707" stroke="#fff" stroke-opacity=".18" stroke-width="1"/>
<line x1="1145.7" x2="1184" y1="553.4" y2="553.4" stroke="#fff" stroke-opacity="0.18" stroke-width="1"/>
<line x1="1102.5" x2="1142" y1="491.3" y2="491.3" stroke="#fff" stroke-opacity="0.18" stroke-width="1"/>
<text font-size="14.3" text-anchor="end" transform="translate(653.0,712.1) scale(0.735,1)">0.00</text>
<text font-size="14.3" text-anchor="end" transform="translate(653.0,683.1) scale(0.735,1)">10.00</text>
<text font-size="14.3" text-anchor="end" transform="translate(653.0,653.8) scale(0.735,1)">20.00</text>
<text font-size="14.3" text-anchor="end" transform="translate(653.0,624.2) scale(0.735,1)">30.00</text>
<text font-size="14.3" text-anchor="end" transform="translate(653.0,594.8) scale(0.735,1)">40.00</text>
<text font-size="14.3" text-anchor="end" transform="translate(653.0,565.2) scale(0.735,1)">50.00</text>
<text font-size="14.3" text-anchor="end" transform="translate(653.0,536.1) scale(0.735,1)">60.00</text>
<text font-size="14.3" text-anchor="end" transform="translate(653.0,506.6) scale(0.735,1)">70.00</text>
<text font-size="14.3" text-anchor="end" transform="translate(653.0,477.3) scale(0.735,1)">80.00</text>
<text font-size="14.3" text-anchor="end" transform="translate(653.0,448.2) scale(0.735,1)">90.00</text>
<text font-size="14.3" text-anchor="end" transform="translate(653.0,418.3) scale(0.735,1)">100.00</text>
<text font-size="14.3" text-anchor="middle" transform="translate(662.5,728.6) scale(0.735,1)">6/3/2013</text>
<text font-size="14.3" text-anchor="middle" transform="translate(714.4,728.6) scale(0.735,1)">6/3/2014</text>
<text font-size="14.3" text-anchor="middle" transform="translate(766.3,728.6) scale(0.735,1)">6/3/2015</text>
<text font-size="14.3" text-anchor="middle" transform="translate(818.2,728.6) scale(0.735,1)">6/3/2016</text>
<text font-size="14.3" text-anchor="middle" transform="translate(870.1,728.6) scale(0.735,1)">6/3/2017</text>
<text font-size="14.3" text-anchor="middle" transform="translate(922.0,728.6) scale(0.735,1)">6/3/2018</text>
<text font-size="14.3" text-anchor="middle" transform="translate(973.9,728.6) scale(0.735,1)">6/3/2019</text>
<text font-size="14.3" text-anchor="middle" transform="translate(1025.8,728.6) scale(0.735,1)">6/3/2020</text>
<text font-size="14.3" text-anchor="middle" transform="translate(1077.7,728.6) scale(0.735,1)">6/3/2021</text>
<text font-size="14.3" text-anchor="middle" transform="translate(1129.6,728.6) scale(0.735,1)">6/3/2022</text>
<text font-size="14.3" text-anchor="middle" transform="translate(1181.5,728.6) scale(0.735,1)">6/3/2023</text>
<text font-size="18.9" text-anchor="middle" transform="translate(916.0,392.7) scale(0.673,1)">Carbon Dioxide Emissions</text>
</g>
</svg>
</body></html>
